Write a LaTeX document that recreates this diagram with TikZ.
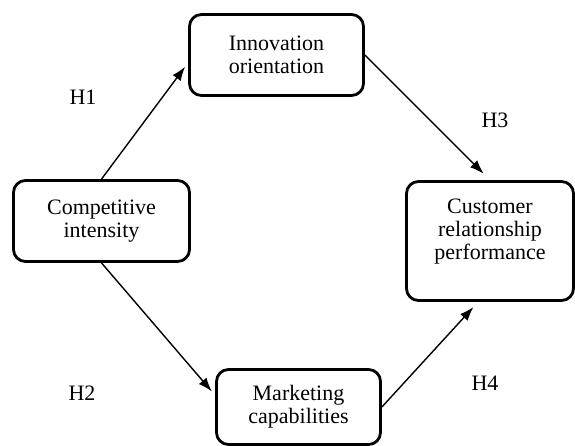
\documentclass[tikz,border=0pt]{standalone}
\usepackage{fontspec}
\setmainfont{Liberation Serif}
\usetikzlibrary{arrows.meta}

\begin{document}
\begin{tikzpicture}[x=1pt, y=-1pt,
        main/.style = {draw, rectangle, rounded corners=12pt, line width=2.8pt, align=center, font=\fontsize{22}{23}\selectfont},
        hyp/.style = {font=\fontsize{22}{23}\selectfont}]
        \useasboundingbox (0, 0) rectangle (575, 446);
        \node[main, minimum width=176pt, minimum height=81pt] (1) at (101.5, 221) {Competitive\\intensity};
        \node[main, minimum width=174pt, minimum height=81pt] (2) at (276.5, 55) {Innovation\\orientation};
        \node[main, minimum width=167pt, minimum height=119pt, text depth=24pt] (3) at (490, 241) {Customer\\relationship\\performance};
        \node[main, minimum width=164pt, minimum height=75pt] (4) at (298.5, 407) {Marketing\\capabilities};
        \node[hyp] (h1) at (83, 97) {H1};
        \node[hyp] (h2) at (82, 393) {H2};
        \node[hyp] (h3) at (495, 120) {H3};
        \node[hyp] (h4) at (485, 383) {H4};
        \draw[->, line width=1.4pt, >={Latex[length=14pt, width=10pt]}, shorten >=5pt] (1.north) -- (2.185);
        \draw[->, line width=1.4pt, >={Latex[length=14pt, width=10pt]}, shorten >=5pt] (1.south) -- (4.172);
        \draw[->, line width=1.4pt, >={Latex[length=14pt, width=10pt]}, shorten >=9pt] (2.east) -- (3.north);
        \draw[->, line width=1.4pt, >={Latex[length=14pt, width=10pt]}, shorten >=7pt] (4.east) -- (3.259);
    \end{tikzpicture}
\end{document}
